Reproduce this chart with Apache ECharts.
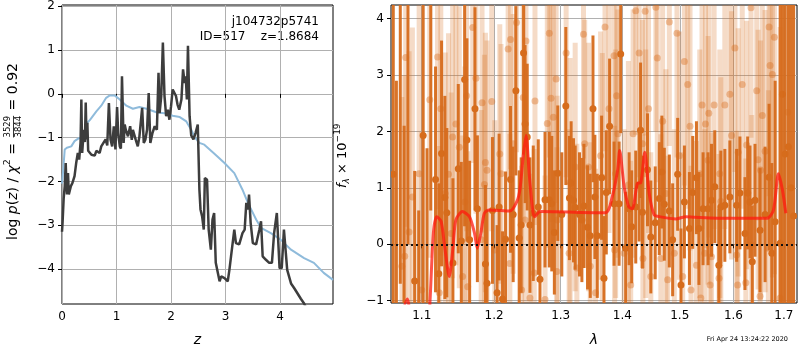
<!DOCTYPE html>
<html><head><meta charset="utf-8">
<script src="https://cdn.jsdelivr.net/npm/echarts@6/dist/echarts.min.js"></script>
<style>html,body{margin:0;padding:0;background:#fff}#c{width:800px;height:350px}</style>
</head><body><div id="c"></div>
<script>
// ---------- tick labels ----------
const zTicks = [0, 1, 2, 3, 4];
const pzTicks = [-4, -3, -2, -1, 0, 1, 2];
const lamTicks = [1.1, 1.2, 1.3, 1.4, 1.5, 1.6, 1.7];
const fTicks = [-1, 0, 1, 2, 3, 4];

// ---------- left panel: log p(z) ----------
const pzZ = [0.000,0.010,0.030,0.050,0.068,0.080,0.092,0.110,0.125,0.140,0.165,0.190,0.230,0.260,0.290,0.315,0.340,0.355,0.370,0.400,0.420,0.435,0.450,0.465,0.480,0.500,0.540,0.600,0.630,0.660,0.690,0.720,0.760,0.800,0.830,0.860,0.890,0.920,0.950,0.980,1.010,1.030,1.060,1.080,1.100,1.130,1.150,1.170,1.210,1.250,1.280,1.300,1.350,1.390,1.420,1.470,1.500,1.530,1.560,1.590,1.620,1.660,1.700,1.740,1.770,1.790,1.820,1.850,1.880,1.910,1.940,1.970,2.000,2.030,2.060,2.090,2.120,2.150,2.190,2.220,2.250,2.270,2.290,2.310,2.340,2.370,2.410,2.450,2.490,2.520,2.540,2.570,2.600,2.620,2.660,2.690,2.730,2.760,2.790,2.820,2.890,2.920,2.980,3.040,3.070,3.100,3.160,3.190,3.250,3.310,3.350,3.380,3.410,3.430,3.460,3.500,3.560,3.620,3.650,3.680,3.740,3.800,3.850,3.890,3.940,3.990,4.030,4.070,4.090,4.130,4.200,4.260,4.320,4.380,4.440,4.470];
const pzLog = [-3.15,-2.95,-2.40,-2.11,-1.58,-2.00,-2.30,-1.81,-2.30,-2.26,-2.10,-2.04,-1.88,-1.58,-1.35,-1.50,-1.12,-0.13,-1.35,-0.82,-1.10,-0.20,-1.04,-0.66,-1.30,-1.27,-1.39,-1.41,-1.30,-1.27,-1.35,-1.20,-1.12,-1.04,-1.18,-0.21,-1.04,-1.20,-0.74,-1.27,-0.30,-0.89,-1.20,-1.25,0.40,-1.12,-0.70,-0.82,-0.97,-0.74,-1.05,-0.82,-1.04,-1.20,-0.97,-0.32,-1.12,-1.04,-0.82,0.02,-1.12,-0.89,-0.74,-0.82,0.48,-0.44,-0.05,1.17,-0.05,-0.51,-0.36,-0.59,-0.28,0.10,0.06,-0.05,-0.25,-0.36,-0.13,0.56,0.25,0.40,-0.13,1.10,-0.51,-0.95,-1.04,-0.89,-0.70,-2.19,-2.64,-2.80,-3.10,-1.92,-1.96,-3.10,-3.56,-2.87,-2.72,-3.86,-4.28,-4.17,-4.21,-4.28,-4.02,-3.71,-3.10,-3.41,-3.44,-3.18,-3.10,-2.49,-2.64,-2.30,-2.95,-3.41,-3.44,-3.10,-2.91,-3.71,-3.79,-3.86,-3.86,-3.18,-2.72,-3.98,-3.98,-3.10,-3.10,-4.02,-4.33,-4.44,-4.56,-4.68,-4.79,-4.87];
const priorZ = [0.00,0.02,0.05,0.09,0.17,0.23,0.31,0.40,0.43,0.47,0.51,0.63,0.72,0.81,0.87,0.97,1.06,1.18,1.30,1.42,1.55,1.73,1.91,2.03,2.16,2.28,2.37,2.43,2.52,2.61,2.79,2.98,3.16,3.31,3.41,3.56,3.65,3.83,4.01,4.20,4.44,4.62,4.80,4.97];
const priorLog = [-2.05,-1.77,-1.27,-1.23,-1.20,-1.08,-1.01,-1.00,-0.85,-0.65,-0.60,-0.40,-0.27,-0.09,-0.04,-0.04,-0.13,-0.27,-0.34,-0.30,-0.34,-0.42,-0.45,-0.50,-0.53,-0.63,-0.82,-0.98,-1.12,-1.16,-1.36,-1.58,-1.81,-2.19,-2.49,-2.87,-3.06,-3.18,-3.33,-3.56,-3.75,-3.86,-4.09,-4.25];

// ---------- right panel: spectrum ----------
const darkLam = [1.063,1.067,1.072,1.077,1.082,1.0907,1.096,1.1019,1.107,1.112,1.1184,1.1228,1.1265,1.1310,1.1337,1.1420,1.1494,1.1536,1.1582,1.1614,1.1652,1.1727,1.1761,1.1875,1.1898,1.1976,1.2043,1.2072,1.2122,1.2166,1.2239,1.2278,1.2318,1.2367,1.2397,1.2432,1.2455,1.2487,1.2528,1.2578,1.2654,1.2680,1.2757,1.2823,1.2861,1.2901,1.2954,1.3017,1.3080,1.3137,1.3164,1.3201,1.3228,1.3297,1.3335,1.3368,1.3426,1.3470,1.3514,1.3545,1.3584,1.3655,1.3694,1.3732,1.3787,1.3861,1.3945,1.3972,1.4056,1.4114,1.4158,1.4227,1.4285,1.4310,1.4342,1.4429,1.4487,1.4564,1.4635,1.4681,1.4724,1.4813,1.4872,1.4962,1.5022,1.5084,1.5175,1.5235,1.5304,1.5350,1.5426,1.5519,1.5583,1.5645,1.5721,1.5759,1.5835,1.5931,1.6061,1.6125,1.6223,1.6276,1.6321,1.6366,1.6420,1.6520,1.6620,1.6700,1.6755,1.6822,1.6924,1.6971,1.7026,1.7094,1.7150,1.7200];
const darkFlux = [1.24,-1.6,4.8,-1.4,5.0,-0.65,-1.3,1.93,-1.8,4.6,1.15,-0.52,1.61,0.83,0.56,-0.33,1.34,0.06,2.92,1.85,0.08,2.40,0.63,-0.35,-0.69,0.60,-0.86,0.66,-0.97,0.09,1.15,0.53,2.72,0.11,0.34,3.39,2.13,1.90,0.34,0.55,0.66,-0.62,0.79,0.79,0.72,0.21,1.26,0.53,2.45,0.82,1.08,0.78,0.65,0.53,0.43,0.68,0.30,0.15,2.40,0.84,0.15,1.18,-0.60,0.92,2.09,0.72,0.72,3.37,-0.07,0.63,0.31,0.66,1.05,2.02,0.57,1.32,0.13,0.38,0.81,1.28,0.71,0.59,0.08,1.24,-0.72,0.75,0.28,0.92,1.18,0.28,0.63,0.63,0.78,1.02,-0.37,0.66,0.69,0.84,0.69,0.91,0.19,0.91,0.75,-0.31,0.78,0.25,0.53,1.19,-0.16,0.40,0.02,2.66,1.60,1.73,1.00,0.50];
const darkErr = [3.2,4.5,5.5,3.5,5.0,1.95,1.9,3.0,3.5,4.0,2.0,1.6,2.0,1.8,1.5,1.5,1.5,1.4,2.6,1.8,1.4,1.8,1.3,1.4,1.3,1.3,1.2,1.3,1.2,1.2,1.3,1.2,1.5,1.2,1.2,1.8,1.4,1.3,1.2,1.2,1.2,1.2,1.2,1.2,1.2,1.1,1.2,1.1,1.4,1.1,1.1,1.1,1.1,1.1,1.1,1.1,1.1,1.1,1.3,1.1,1.1,1.1,1.1,1.1,1.2,1.1,1.1,1.4,1.0,1.0,1.0,1.0,1.0,1.2,1.0,1.0,1.0,1.0,1.0,1.0,1.0,1.0,1.0,1.0,1.0,1.0,1.0,1.0,1.0,1.0,1.0,1.0,1.0,1.0,1.0,1.0,1.0,1.0,1.0,1.0,1.0,1.0,1.0,1.0,1.0,1.1,1.2,1.3,1.6,2.5,5.0,5.0,6.0,6.0,6.0,6.0];

const lightLam = [1.0740,1.0777,1.0790,1.0834,1.0877,1.0966,1.1000,1.1107,1.1211,1.1234,1.1255,1.1315,1.1360,1.1396,1.1416,1.1461,1.1508,1.1554,1.1586,1.1610,1.1625,1.1695,1.1741,1.1815,1.1827,1.1861,1.1875,1.1898,1.1966,1.2010,1.2082,1.2100,1.2204,1.2229,1.2239,1.2278,1.2328,1.2403,1.2427,1.2455,1.2468,1.2528,1.2593,1.2604,1.2757,1.2792,1.2823,1.2850,1.2885,1.2928,1.2939,1.2945,1.3085,1.3132,1.3148,1.3228,1.3255,1.3361,1.3380,1.3442,1.3470,1.3556,1.3638,1.3666,1.3711,1.3777,1.3861,1.3870,1.3887,1.3904,1.3925,1.4029,1.4102,1.4141,1.4182,1.4227,1.4285,1.4342,1.4350,1.4389,1.4399,1.4447,1.4487,1.4575,1.4600,1.4663,1.4694,1.4752,1.4783,1.4813,1.4902,1.4950,1.4993,1.5053,1.5084,1.5144,1.5186,1.5204,1.5304,1.5365,1.5385,1.5407,1.5458,1.5471,1.5519,1.5533,1.5557,1.5583,1.5632,1.5725,1.5740,1.5759,1.5835,1.5931,1.5964,1.6028,1.6061,1.6080,1.6091,1.6170,1.6240,1.6256,1.6341,1.6355,1.6454,1.6480,1.6520,1.6530,1.6565,1.6620,1.6686,1.6700,1.6720,1.6767,1.6807,1.6924,1.7082];
const lightFlux = [-0.39,-0.21,3.31,0.22,0.84,1.25,-0.81,2.56,3.32,-0.86,2.40,0.90,1.24,0.19,1.90,2.13,1.72,-0.57,0.75,2.63,-0.75,3.84,2.94,0.08,2.51,1.06,1.45,1.31,2.53,-0.10,1.60,1.25,3.46,-0.34,3.63,1.78,3.93,-0.81,2.60,0.43,3.60,-0.95,-0.51,2.54,-0.98,2.14,3.74,2.59,2.25,2.93,-0.48,0.43,3.39,-0.16,1.10,1.37,-0.42,3.72,1.78,1.37,-0.39,-0.86,1.57,1.19,3.85,2.40,3.34,-0.10,1.25,2.63,1.96,-0.16,1.05,-0.72,1.96,4.14,3.39,1.78,-0.25,4.13,1.25,2.40,-0.57,4.20,3.30,-0.25,2.18,0.90,-0.63,3.94,-0.16,3.74,1.57,-0.57,3.24,2.83,2.09,-0.81,-0.37,1.25,-0.95,2.47,-0.16,2.13,1.49,2.32,-0.72,-0.22,2.47,-0.60,1.25,0.76,2.47,2.66,1.93,3.48,-0.19,-0.72,1.63,2.83,-0.68,1.76,4.19,-0.01,2.72,1.50,-0.92,1.31,2.28,1.65,-0.07,3.85,3.17,3.01,3.67,-0.95,2.34];
const lightErr = [3.0,3.2,3.0,3.2,3.0,3.0,2.8,2.8,2.7,2.6,2.6,2.5,2.5,2.5,2.5,2.5,2.5,2.5,2.4,2.4,2.4,2.4,2.4,2.3,2.3,2.3,2.3,2.3,2.3,2.3,2.3,2.3,2.3,2.3,2.3,2.3,2.3,2.2,2.2,2.2,2.2,2.2,2.2,2.2,2.2,2.2,2.2,2.2,2.2,2.2,2.2,2.2,2.2,2.2,2.2,2.2,2.2,2.2,2.2,2.2,2.2,2.2,2.2,2.2,2.2,2.2,2.2,2.2,2.2,2.2,2.2,2.2,2.2,2.2,2.2,2.2,2.2,2.2,2.2,2.2,2.2,2.2,2.2,2.2,2.2,2.2,2.2,2.2,2.2,2.2,2.2,2.2,2.2,2.2,2.2,2.2,2.2,2.2,2.2,2.2,2.2,2.2,2.2,2.2,2.2,2.2,2.2,2.2,2.2,2.2,2.2,2.2,2.2,2.2,2.2,2.2,2.2,2.2,2.2,2.2,2.2,2.2,2.3,2.3,2.3,2.3,2.3,2.3,2.3,2.5,2.8,3.0,3.2,3.6,4.2,4.8,5.5];

const modelLam = [1.070,1.081,1.090,1.108,1.111,1.1155,1.120,1.126,1.131,1.137,1.142,1.146,1.155,1.165,1.172,1.176,1.181,1.186,1.193,1.223,1.233,1.238,1.243,1.247,1.252,1.257,1.260,1.268,1.372,1.383,1.392,1.3955,1.403,1.411,1.417,1.4256,1.4313,1.4382,1.4459,1.4546,1.4635,1.4931,1.5112,1.5272,1.5899,1.6654,1.6787,1.6889,1.6971,1.7040];
const modelFlux = [-1.5,-0.97,-1.5,-1.5,-1.0,0.2,0.49,0.40,-0.07,-0.57,-0.07,0.43,0.58,0.49,0.20,-0.07,0.20,0.55,0.61,0.59,0.75,0.99,1.6,1.93,1.2,0.6,0.49,0.58,0.56,0.84,1.31,1.66,1.02,0.66,0.63,1.08,1.09,1.63,0.90,0.52,0.49,0.45,0.49,0.48,0.46,0.46,0.60,1.25,0.96,0.55];

// ---------- build ----------
const FONT = '"DejaVu Sans", sans-serif';
const minus = v => String(v).replace('-', '\u2212');
const zip2 = (a, b) => a.map((v, i) => [v, b[i]]);
const specData = (lam, f, e) => lam.map((l, i) => [Math.log(l), f[i], e[i]]);

function errRender(barW, barColor, dotColor, r) {
  return function (params, api) {
    const x = api.value(0), y = api.value(1), e = api.value(2);
    const top = api.coord([x, y + e]), bot = api.coord([x, y - e]), p = api.coord([x, y]);
    return { type: 'group', children: [
      { type: 'rect', shape: { x: p[0] - barW / 2, y: top[1], width: barW, height: bot[1] - top[1] }, style: { fill: barColor } },
      { type: 'circle', shape: { cx: p[0], cy: p[1], r: r }, style: { fill: dotColor } }
    ] };
  };
}

const ctx = document.createElement('canvas').getContext('2d');
function fontStr(size, italic) { return (italic ? 'italic ' : '') + size + 'px ' + FONT; }
function layout(pieces, base) {
  let x = 0; const out = [];
  for (const p of pieces) {
    if (p.frac) {
      const f = fontStr(p.size, false); ctx.font = f;
      const w = Math.max(ctx.measureText(p.num).width, ctx.measureText(p.den).width);
      out.push({ type: 'text', x: x + 1, y: -5.5, style: { text: p.num, font: f, fill: '#000', textVerticalAlign: 'middle', verticalAlign: 'middle' } });
      out.push({ type: 'text', x: x + 1, y: 5.5, style: { text: p.den, font: f, fill: '#000', textVerticalAlign: 'middle', verticalAlign: 'middle' } });
      out.push({ type: 'line', shape: { x1: x + 1, y1: 0.5, x2: x + 1 + w, y2: 0.5 }, style: { stroke: '#000', lineWidth: 0.8 } });
      x += w + 2;
      continue;
    }
    const f = fontStr(p.size || base, p.i); ctx.font = f;
    const w = ctx.measureText(p.t).width;
    out.push({ type: 'text', x: x, y: p.dy || 0, style: { text: p.t, font: f, fill: '#000', textVerticalAlign: 'middle', verticalAlign: 'middle' } });
    x += w;
  }
  return out;
}

const leftLabel = layout([
  { t: 'log ' }, { t: 'p', i: 1 }, { t: '(' }, { t: 'z', i: 1 }, { t: ') / ' }, { t: '\u03c7', i: 1 }, { t: '2', size: 9.5, dy: -5 }, { t: ' = ' },
  { frac: true, num: '3529', den: '3844', size: 8.5 }, { t: ' = 0.92' }
], 14);
const rightLabel = layout([
  { t: 'f', i: 1 }, { t: '\u03bb', i: 1, size: 9, dy: 4 }, { t: ' \u00d7 10' }, { t: '\u221219', size: 9, dy: -5 }
], 13);

const axisFont = { fontSize: 12, color: '#000', fontFamily: FONT };
const gridLine = { show: true, lineStyle: { color: '#b0b0b0', width: 1 } };
const tick = vals => ({ show: true, customValues: vals, length: 4, lineStyle: { color: '#000', width: 1 } });

const chart = echarts.init(document.getElementById('c'), null, { renderer: 'canvas' });
chart.setOption({
  animation: false,
  backgroundColor: '#fff',
  grid: [
    { left: 62, top: 5, width: 271, height: 299, outerBoundsMode: 'none', containLabel: false, show: true, borderColor: '#000', borderWidth: 1, backgroundColor: 'transparent' },
    { left: 391, top: 5, width: 406, height: 298, outerBoundsMode: 'none', containLabel: false, show: true, borderColor: '#000', borderWidth: 1, backgroundColor: 'transparent' }
  ],
  xAxis: [
    { type: 'value', gridIndex: 0, min: 0, max: 4.97, axisLine: { show: false }, axisTick: tick(zTicks),
      axisLabel: Object.assign({ customValues: zTicks, margin: 7, formatter: minus }, axisFont), splitLine: gridLine,
      name: 'z', nameLocation: 'middle', nameGap: 29, nameTextStyle: { fontSize: 14, fontStyle: 'italic', fontFamily: FONT, color: '#000' } },
    { type: 'value', gridIndex: 1, min: Math.log(1.0601), max: Math.log(1.727), axisLine: { show: false },
      axisTick: tick(lamTicks.map(Math.log)),
      axisLabel: Object.assign({ customValues: lamTicks.map(Math.log), margin: 7, formatter: v => Math.exp(v).toFixed(1) }, axisFont),
      splitLine: gridLine,
      name: '\u03bb', nameLocation: 'middle', nameGap: 30, nameTextStyle: { fontSize: 14, fontStyle: 'italic', fontFamily: FONT, color: '#000' } }
  ],
  yAxis: [
    { type: 'value', gridIndex: 0, min: -4.8, max: 2.03, axisLine: { show: false }, axisTick: tick(pzTicks),
      axisLabel: Object.assign({ customValues: pzTicks, margin: 7, formatter: minus }, axisFont), splitLine: gridLine },
    { type: 'value', gridIndex: 1, min: -1.04, max: 4.24, axisLine: { show: false }, axisTick: tick(fTicks),
      axisLabel: Object.assign({ customValues: fTicks, margin: 7, formatter: minus }, axisFont), splitLine: gridLine }
  ],
  series: [
    { type: 'line', xAxisIndex: 0, yAxisIndex: 0, data: zip2(priorZ, priorLog), showSymbol: false, symbol: 'none',
      lineStyle: { color: '#8fbbdb', width: 2 }, z: 2 },
    { type: 'line', xAxisIndex: 0, yAxisIndex: 0, data: zip2(pzZ, pzLog), showSymbol: false, symbol: 'none',
      lineStyle: { color: '#3d3d3d', width: 2.5 }, z: 3 },
    { type: 'custom', xAxisIndex: 1, yAxisIndex: 1, data: specData(lightLam, lightFlux, lightErr), clip: true,
      encode: { x: 0, y: 1 }, renderItem: errRender(5, 'rgba(217,110,30,0.25)', 'rgba(217,110,30,0.4)', 3.5), z: 2 },
    { type: 'custom', xAxisIndex: 1, yAxisIndex: 1, data: specData(darkLam, darkFlux, darkErr), clip: true,
      encode: { x: 0, y: 1 }, renderItem: errRender(3, 'rgba(214,108,28,0.95)', 'rgb(214,108,28)', 3.5), z: 3 },
    { type: 'line', xAxisIndex: 1, yAxisIndex: 1, data: modelLam.map((l, i) => [Math.log(l), modelFlux[i]]),
      showSymbol: false, symbol: 'none', smooth: 0.25, lineStyle: { color: 'rgba(255,25,15,0.75)', width: 3 }, z: 4,
      markLine: { silent: true, symbol: 'none', label: { show: false }, lineStyle: { type: [2, 3], color: '#111', width: 2 },
        data: [{ yAxis: 0 }] } }
  ],
  graphic: [
    { type: 'group', x: 13, y: 240, rotation: Math.PI / 2, children: leftLabel },
    { type: 'group', x: 343, y: 188, rotation: Math.PI / 2, children: rightLabel },
    { type: 'text', x: 319, y: 22, style: { text: 'j104732p5741', font: fontStr(12, false), fill: '#000', textAlign: 'right', align: 'right', textVerticalAlign: 'middle', verticalAlign: 'middle' } },
    { type: 'text', x: 319, y: 37, style: { text: 'ID=517    z=1.8684', font: fontStr(12, false), fill: '#000', textAlign: 'right', align: 'right', textVerticalAlign: 'middle', verticalAlign: 'middle' } },
    { type: 'text', x: 788, y: 339, style: { text: 'Fri Apr 24 13:24:22 2020', font: fontStr(6.5, false), fill: '#000', textAlign: 'right', align: 'right', textVerticalAlign: 'middle', verticalAlign: 'middle' } }
  ]
});
</script></body></html>
